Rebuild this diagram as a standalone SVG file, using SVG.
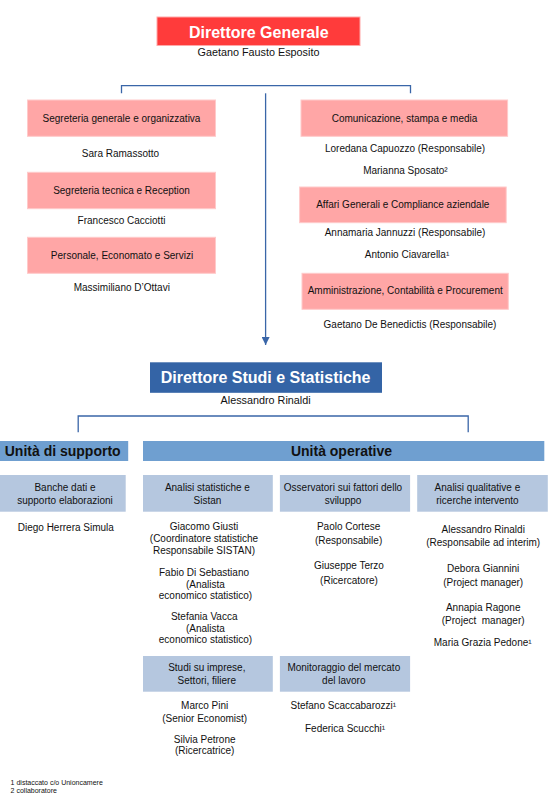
<svg xmlns="http://www.w3.org/2000/svg" width="552" height="807" viewBox="0 0 552 807">
<style>
text{font-family:"Liberation Sans",Arial,sans-serif;fill:#111;text-anchor:middle}
.n{font-size:10px}
.dir{font-size:16px;font-weight:bold;fill:#fff}
.dn{font-size:10.8px}
.u{font-size:14px;font-weight:bold}
.fn{font-size:7px;text-anchor:start}
.pink{fill:#FFA6A6;stroke:#FFCACA;stroke-width:1}
.lb{fill:#B5C7DF}
.mb{fill:#6F9FD0}
.con{fill:none;stroke:#3A66A8;stroke-width:1.3}
</style>
<defs>
<marker id="arr" viewBox="0 0 8 8" refX="8" refY="4" markerWidth="8" markerHeight="8" markerUnits="userSpaceOnUse" orient="auto">
<path d="M0,0 L8,4 L0,8 z" fill="#3A66A8"/>
</marker>
</defs>
<rect width="552" height="807" fill="#fff"/>

<g id="connectors">
<path class="con" d="M121.5 93.3 V85.7 H410.5 V93.3"/>
<path class="con" d="M265.6 93.3 V345" marker-end="url(#arr)"/>
<path class="con" d="M78.2 432.3 V416 H468.2 V432.3"/>
</g>

<g id="direttore-generale">
<rect x="157" y="17" width="203" height="28.5" fill="#FF3B3B" stroke="#FFA8A8" stroke-width="1"/>
<text class="dir" x="258.8" y="37.6">Direttore Generale</text>
<text class="dn" x="258.5" y="56">Gaetano Fausto Esposito</text>
</g>

<g id="segreteria-generale">
<rect class="pink" x="27.5" y="100" width="188" height="36.3"/>
<text class="n" x="121.5" y="121.5">Segreteria generale e organizzativa</text>
<text class="n" x="120.5" y="157.2">Sara Ramassotto</text>
</g>
<g id="segreteria-tecnica">
<rect class="pink" x="27.5" y="172.3" width="188" height="36.4"/>
<text class="n" x="121.5" y="193.5">Segreteria tecnica e Reception</text>
<text class="n" x="121.5" y="224.2">Francesco Cacciotti</text>
</g>
<g id="personale">
<rect class="pink" x="27.5" y="237.3" width="188" height="36"/>
<text class="n" x="122" y="258.5">Personale, Economato e Servizi</text>
<text class="n" x="121.8" y="290.8">Massimiliano D’Ottavi</text>
</g>

<g id="comunicazione">
<rect class="pink" x="301" y="100" width="206.6" height="36.3"/>
<text class="n" x="404.5" y="121.5">Comunicazione, stampa e media</text>
<text class="n" x="405" y="152.2">Loredana Capuozzo (Responsabile)</text>
<text class="n" x="405.4" y="174.2">Marianna Sposato²</text>
</g>
<g id="affari-generali">
<rect class="pink" x="299.6" y="187" width="206.6" height="35.7"/>
<text class="n" x="402.8" y="208.2">Affari Generali e Compliance aziendale</text>
<text class="n" x="405" y="236.2">Annamaria Jannuzzi (Responsabile)</text>
<text class="n" x="407" y="258.2">Antonio Ciavarella¹</text>
</g>
<g id="amministrazione">
<rect class="pink" x="302" y="273.3" width="206.3" height="36"/>
<text class="n" x="405.2" y="294.2">Amministrazione, Contabilità e Procurement</text>
<text class="n" x="410" y="327.5">Gaetano De Benedictis (Responsabile)</text>
</g>

<g id="direttore-studi">
<rect x="150" y="362.3" width="232" height="30.5" fill="#3464A6"/>
<text class="dir" x="265.6" y="383.3">Direttore Studi e Statistiche</text>
<text class="dn" x="265.6" y="404">Alessandro Rinaldi</text>
</g>

<g id="unita-supporto">
<rect class="mb" x="0" y="441" width="128.2" height="20"/>
<text class="u" x="62.7" y="456">Unità di supporto</text>
</g>
<g id="unita-operative">
<rect class="mb" x="143" y="441" width="401.3" height="20"/>
<text class="u" x="341.5" y="456">Unità operative</text>
</g>

<g id="banche-dati">
<rect class="lb" x="0" y="475" width="125.7" height="36.7"/>
<text class="n" x="65" y="491.2">Banche dati e</text>
<text class="n" x="65" y="504.2">supporto elaborazioni</text>
<text class="n" x="65.8" y="530.8">Diego Herrera Simula</text>
</g>

<g id="analisi-statistiche">
<rect class="lb" x="143" y="475" width="129.8" height="36.7"/>
<text class="n" x="207.4" y="491.2">Analisi statistiche e</text>
<text class="n" x="207.4" y="504.2">Sistan</text>
<text class="n" x="204" y="530.2">Giacomo Giusti</text>
<text class="n" x="204" y="542.2">(Coordinatore statistiche</text>
<text class="n" x="204" y="553.5">Responsabile SISTAN)</text>
<text class="n" x="204" y="576.2">Fabio Di Sebastiano</text>
<text class="n" x="205.4" y="587.5">(Analista</text>
<text class="n" x="205.5" y="598.5">economico statistico)</text>
<text class="n" x="204.2" y="620.2">Stefania Vacca</text>
<text class="n" x="205.4" y="631.8">(Analista</text>
<text class="n" x="205.5" y="642.8">economico statistico)</text>
</g>

<g id="osservatori">
<rect class="lb" x="279.9" y="475" width="130.2" height="36.7"/>
<text class="n" x="343" y="491.2">Osservatori sui fattori dello</text>
<text class="n" x="343" y="504.2">sviluppo</text>
<text class="n" x="348.6" y="530.2">Paolo Cortese</text>
<text class="n" x="348.6" y="543.5">(Responsabile)</text>
<text class="n" x="349" y="569.2">Giuseppe Terzo</text>
<text class="n" x="349" y="583.5">(Ricercatore)</text>
</g>

<g id="analisi-qualitative">
<rect class="lb" x="417.2" y="475" width="130.6" height="36.7"/>
<text class="n" x="477.4" y="491.2">Analisi qualitative e</text>
<text class="n" x="477.4" y="504.2">ricerche intervento</text>
<text class="n" x="483.2" y="532.8">Alessandro Rinaldi</text>
<text class="n" x="483.2" y="546.2">(Responsabile ad interim)</text>
<text class="n" x="483.2" y="572.2">Debora Giannini</text>
<text class="n" x="483.2" y="585.5">(Project manager)</text>
<text class="n" x="483.2" y="611.2">Annapia Ragone</text>
<text class="n" x="483.2" y="624.2" xml:space="preserve">(Project  manager)</text>
<text class="n" x="482.7" y="646.2">Maria Grazia Pedone¹</text>
</g>

<g id="studi-imprese">
<rect class="lb" x="143" y="656" width="129.8" height="35.7"/>
<text class="n" x="206.8" y="670.8">Studi su imprese,</text>
<text class="n" x="206.8" y="683.5">Settori, filiere</text>
<text class="n" x="204.7" y="708.8">Marco Pini</text>
<text class="n" x="204.7" y="721.5">(Senior Economist)</text>
<text class="n" x="204.7" y="742.8">Silvia Petrone</text>
<text class="n" x="204.7" y="754.2">(Ricercatrice)</text>
</g>

<g id="monitoraggio">
<rect class="lb" x="279.9" y="656" width="130.2" height="35.7"/>
<text class="n" x="343.8" y="670.8">Monitoraggio del mercato</text>
<text class="n" x="343.8" y="683.5">del lavoro</text>
<text class="n" x="343.3" y="708.8">Stefano Scaccabarozzi¹</text>
<text class="n" x="345" y="732.2">Federica Scucchi¹</text>
</g>

<g id="footnotes">
<text class="fn" x="10.6" y="784.5">1 distaccato c/o Unioncamere</text>
<text class="fn" x="10.6" y="792.8">2 collaboratore</text>
</g>
</svg>
